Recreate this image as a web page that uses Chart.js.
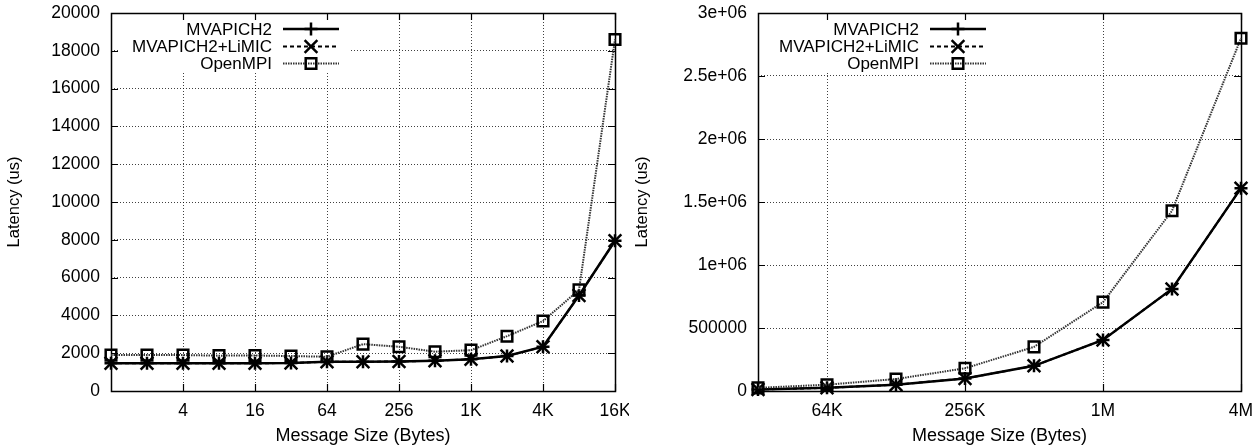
<!DOCTYPE html>
<html>
<head>
<meta charset="utf-8">
<script src="https://cdn.jsdelivr.net/npm/chart.js@4/dist/chart.umd.min.js"></script>
<style>
  html, body { margin: 0; padding: 0; background: #fff; }
  #wrap { position: relative; width: 1258px; height: 448px; }
  .panel { position: absolute; top: 0; }
</style>
</head>
<body>
<div id="wrap">
  <canvas id="small" class="panel" width="629" height="448" style="left:0"></canvas>
  <canvas id="large" class="panel" width="629" height="448" style="left:629px"></canvas>
</div>
<script>
// Small messages (1 byte .. 16K)
const smallSizes = ['1','2','4','8','16','32','64','128','256','512','1K','2K','4K','8K','16K'];
const smallSizeTicks = ['4','16','64','256','1K','4K','16K'];
const smallMvapich2 = [1470,1470,1470,1470,1470,1480,1550,1550,1560,1600,1680,1850,2340,5050,7950];
const smallLimic    = [1470,1470,1470,1470,1470,1480,1550,1550,1560,1600,1680,1850,2340,5050,7950];
const smallOpenmpi  = [1900,1900,1900,1870,1880,1850,1810,2480,2340,2080,2160,2900,3700,5350,18600];
const smallLatencyTicks = ['0','2000','4000','6000','8000','10000','12000','14000','16000','18000','20000'];

// Large messages (32K .. 4M)
const largeSizes = ['32K','64K','128K','256K','512K','1M','2M','4M'];
const largeSizeTicks = ['64K','256K','1M','4M'];
const largeMvapich2 = [12000,25000,50000,100000,200000,405000,810000,1610000];
const largeLimic    = [12000,25000,50000,100000,200000,405000,810000,1610000];
const largeOpenmpi  = [25000,50000,95000,180000,350000,705000,1430000,2800000];
const largeLatencyTicks = ['0','500000','1e+06','1.5e+06','2e+06','2.5e+06','3e+06'];

const seriesNames = ['MVAPICH2', 'MVAPICH2+LiMIC', 'OpenMPI'];

const FONT = '"Liberation Sans", Helvetica, Arial, sans-serif';
const GRID_COLOR = 'rgba(0,0,0,0.75)';

// Inward tick marks, plot border and the key block (gnuplot style)
const framePlugin = {
  id: 'frame',
  beforeDatasetsDraw(chart, args, opts) {
    const ctx = chart.ctx;
    const a = chart.chartArea;
    // white area behind the key hides the grid there
    ctx.save();
    ctx.fillStyle = '#fff';
    ctx.fillRect(a.left + 9, a.top + 1, 229, 58);
    ctx.restore();

    ctx.save();
    ctx.strokeStyle = '#000';
    ctx.lineWidth = 1.2;
    const tl = 7;
    const xs = chart.scales.x, ys = chart.scales.y;
    ctx.beginPath();
    xs.ticks.forEach((t, i) => {
      const lab = xs.getLabelForValue(t.value);
      if (!opts.shown.includes(lab)) return;
      const px = Math.round(xs.getPixelForTick(i)) + 0.5;
      ctx.moveTo(px, a.bottom); ctx.lineTo(px, a.bottom - tl);
      ctx.moveTo(px, a.top); ctx.lineTo(px, a.top + tl);
    });
    ys.ticks.forEach((t, i) => {
      const py = Math.round(ys.getPixelForTick(i)) + 0.5;
      ctx.moveTo(a.left, py); ctx.lineTo(a.left + tl, py);
      ctx.moveTo(a.right, py); ctx.lineTo(a.right - tl, py);
    });
    ctx.stroke();
    ctx.lineWidth = 1.5;
    ctx.strokeRect(Math.round(a.left) + 0.5, Math.round(a.top) + 0.5,
                   Math.round(a.right - a.left), Math.round(a.bottom - a.top));
    ctx.restore();

    // key entries
    const rows = [a.top + 16, a.top + 33.5, a.top + 50.5];
    const textRight = a.left + 161;
    const x0 = a.left + 172, x1 = a.left + 228, mx = a.left + 200;
    ctx.save();
    ctx.font = '17px ' + FONT;
    ctx.fillStyle = '#000';
    ctx.textAlign = 'right';
    ctx.textBaseline = 'middle';
    chart.data.datasets.forEach((ds, i) => {
      const y = rows[i];
      ctx.fillText(ds.label, textRight, y + 1);
      ctx.save();
      ctx.strokeStyle = ds.borderColor;
      ctx.lineWidth = ds.borderWidth;
      ctx.setLineDash(ds.borderDash || []);
      ctx.beginPath();
      ctx.moveTo(x0, y); ctx.lineTo(x1, y);
      ctx.stroke();
      ctx.restore();
      ctx.save();
      ctx.strokeStyle = '#000';
      ctx.lineWidth = ds.pointBorderWidth;
      ctx.beginPath();
      const r = ds.pointRadius;
      if (ds.pointStyle === 'cross') {
        ctx.moveTo(mx - r, y); ctx.lineTo(mx + r, y);
        ctx.moveTo(mx, y - r); ctx.lineTo(mx, y + r);
      } else if (ds.pointStyle === 'crossRot') {
        const d = r * Math.SQRT1_2;
        ctx.moveTo(mx - d, y - d); ctx.lineTo(mx + d, y + d);
        ctx.moveTo(mx - d, y + d); ctx.lineTo(mx + d, y - d);
      } else {
        const s = r * Math.SQRT1_2;
        ctx.rect(mx - s, y - s, 2 * s, 2 * s);
      }
      ctx.stroke();
      ctx.restore();
    });
    ctx.restore();
  }
};

function makeDatasets(mv, li, om) {
  return [
    { label: seriesNames[0], data: mv, order: 2,
      borderColor: '#000', borderWidth: 2.5, pointStyle: 'cross', pointRadius: 6.5,
      pointBorderWidth: 2.5, pointBorderColor: '#000', pointBackgroundColor: 'transparent',
      tension: 0, clip: false },
    { label: seriesNames[1], data: li, order: 1,
      borderColor: '#000', borderWidth: 2, borderDash: [4, 3], pointStyle: 'crossRot', pointRadius: 9,
      pointBorderWidth: 2.5, pointBorderColor: '#000', pointBackgroundColor: 'transparent',
      tension: 0, clip: false },
    { label: seriesNames[2], data: om, order: 0,
      borderColor: '#333', borderWidth: 2, borderDash: [1.5, 1], pointStyle: 'rect', pointRadius: 7.5,
      pointBorderWidth: 2.5, pointBorderColor: '#000', pointBackgroundColor: 'transparent',
      tension: 0, clip: false }
  ];
}

function makeChart(id, sizes, shown, datasets, yMax, yStep, yLabels, geom) {
  return new Chart(document.getElementById(id), {
    type: 'line',
    data: { labels: sizes, datasets },
    plugins: [framePlugin],
    options: {
      responsive: false,
      animation: false,
      events: [],
      layout: { padding: { top: geom.top, right: geom.right, bottom: 0, left: 0 } },
      plugins: {
        legend: { display: false },
        tooltip: { enabled: false },
        frame: { shown }
      },
      scales: {
        x: {
          type: 'category',
          offset: false,
          grid: {
            drawTicks: false,
            lineWidth: 1,
            color: (c) => (c.tick && shown.includes(sizes[c.index])) ? GRID_COLOR : 'transparent'
          },
          border: { display: false, dash: [1, 2] },
          ticks: {
            autoSkip: false, maxRotation: 0, padding: geom.xPad,
            color: '#000', font: { family: FONT, size: 17.5 },
            callback: function (v) { const l = this.getLabelForValue(v); return shown.includes(l) ? l : ''; }
          },
          title: {
            display: true, text: 'Message Size (Bytes)', color: '#000',
            font: { family: FONT, size: 18 }, padding: { top: 0, bottom: geom.xTitlePad }
          },
          afterFit: (s) => { s.height = geom.xHeight; s.paddingLeft = 0; s.paddingRight = 0; }
        },
        y: {
          min: 0, max: yMax,
          grid: { drawTicks: false, lineWidth: 1, color: GRID_COLOR },
          border: { display: false, dash: [1, 2] },
          ticks: {
            stepSize: yStep, padding: 11, color: '#000',
            font: { family: FONT, size: 17.5 },
            callback: (v, i) => yLabels[i]
          },
          title: {
            display: true, text: 'Latency (us)', color: '#000',
            font: { family: FONT, size: 16.5 }, padding: { top: geom.yTitlePad, bottom: 0 }
          },
          afterFit: (s) => { s.width = geom.yWidth; s.paddingTop = 0; s.paddingBottom = 0; }
        }
      }
    }
  });
}

makeChart('small', smallSizes, smallSizeTicks,
  makeDatasets(smallMvapich2, smallLimic, smallOpenmpi),
  20000, 2000, smallLatencyTicks,
  { top: 13, right: 14, yWidth: 111, xHeight: 57, xPad: 10, xTitlePad: 1, yTitlePad: 5 });

makeChart('large', largeSizes, largeSizeTicks,
  makeDatasets(largeMvapich2, largeLimic, largeOpenmpi),
  3000000, 500000, largeLatencyTicks,
  { top: 13, right: 17, yWidth: 129, xHeight: 57, xPad: 10, xTitlePad: 1, yTitlePad: 4 });
</script>
</body>
</html>
